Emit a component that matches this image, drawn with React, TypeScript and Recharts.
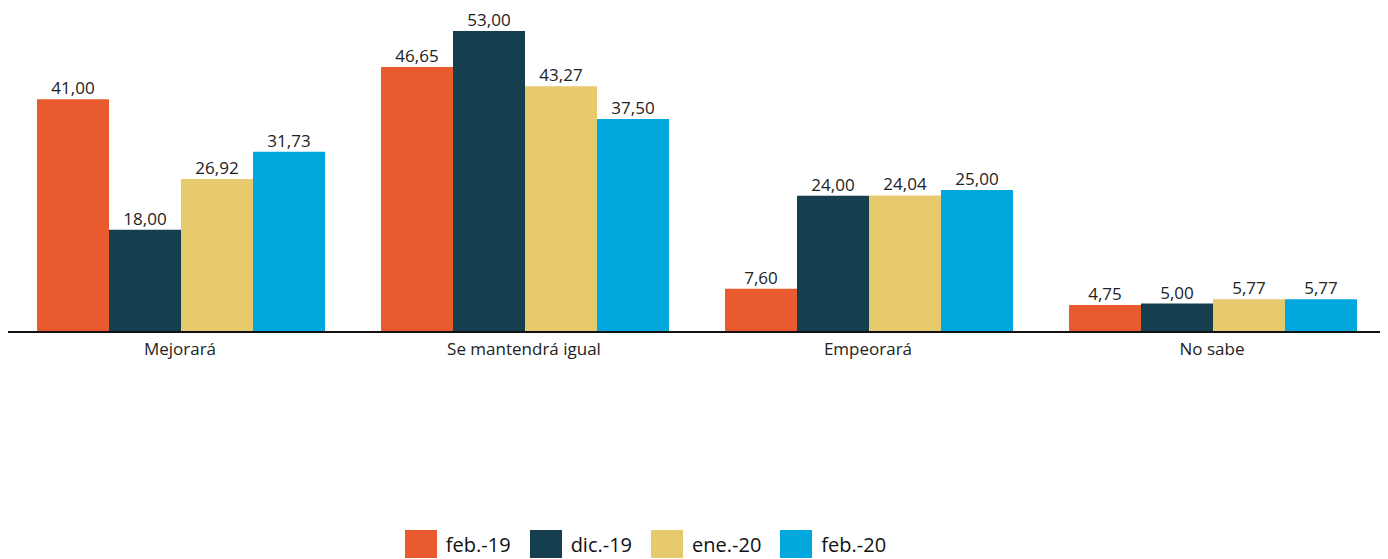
import React from "react";
import { BarChart, Bar, XAxis, YAxis, LabelList, Legend } from "recharts";

const categories = ["Mejorará", "Se mantendrá igual", "Empeorará", "No sabe"];
const feb19 = [41.0, 46.65, 7.6, 4.75];
const dic19 = [18.0, 53.0, 24.0, 5.0];
const ene20 = [26.92, 43.27, 24.04, 5.77];
const feb20 = [31.73, 37.5, 25.0, 5.77];

const series = [
  { key: "feb19", name: "feb.-19", color: "#EA5A2F", values: feb19 },
  { key: "dic19", name: "dic.-19", color: "#153F4E", values: dic19 },
  { key: "ene20", name: "ene.-20", color: "#E7C96E", values: ene20 },
  { key: "feb20", name: "feb.-20", color: "#02A7DE", values: feb20 },
];

const data = categories.map((name, i) => {
  const row: Record<string, string | number> = { name };
  series.forEach((s) => (row[s.key] = s.values[i]));
  return row;
});

const fmt = (v: any) => Number(v).toFixed(2).replace(".", ",");
const FONT = "'Open Sans', sans-serif";

function LegendBox() {
  return (
    <div
      style={{
        display: "flex",
        justifyContent: "center",
        alignItems: "center",
        height: 30,
        paddingRight: 86,
        fontFamily: FONT,
      }}
    >
      {series.map((s) => (
        <div key={s.key} style={{ display: "flex", alignItems: "center", marginRight: 19 }}>
          <div style={{ width: 32, height: 28, background: s.color, marginRight: 9 }} />
          <span style={{ fontSize: 20, color: "#111" }}>{s.name}</span>
        </div>
      ))}
    </div>
  );
}

export default function App() {
  return (
    <div style={{ width: 1380, height: 551 }}>
      <BarChart
        width={1380}
        height={551}
        data={data}
        margin={{ top: 23, right: 4, bottom: 167, left: 0 }}
        barCategoryGap={29}
        barGap={0}
      >
        <XAxis
          dataKey="name"
          height={30}
          tickLine={false}
          axisLine={{ stroke: "#111", strokeWidth: 2 }}
          tick={{ fill: "#222", fontSize: 17, fontFamily: FONT }}
          tickMargin={5}
        />
        <YAxis hide domain={[0, 53]} />
        {series.map((s) => (
          <Bar key={s.key} dataKey={s.key} name={s.name} fill={s.color} isAnimationActive={false}>
            <LabelList
              dataKey={s.key}
              position="top"
              offset={5}
              formatter={fmt}
              style={{ fill: "#222", fontSize: 17, fontFamily: FONT }}
            />
          </Bar>
        ))}
        <Legend
          verticalAlign="bottom"
          height={30}
          content={<LegendBox />}
          wrapperStyle={{ bottom: 0, left: 0, width: 1380 }}
        />
      </BarChart>
    </div>
  );
}
